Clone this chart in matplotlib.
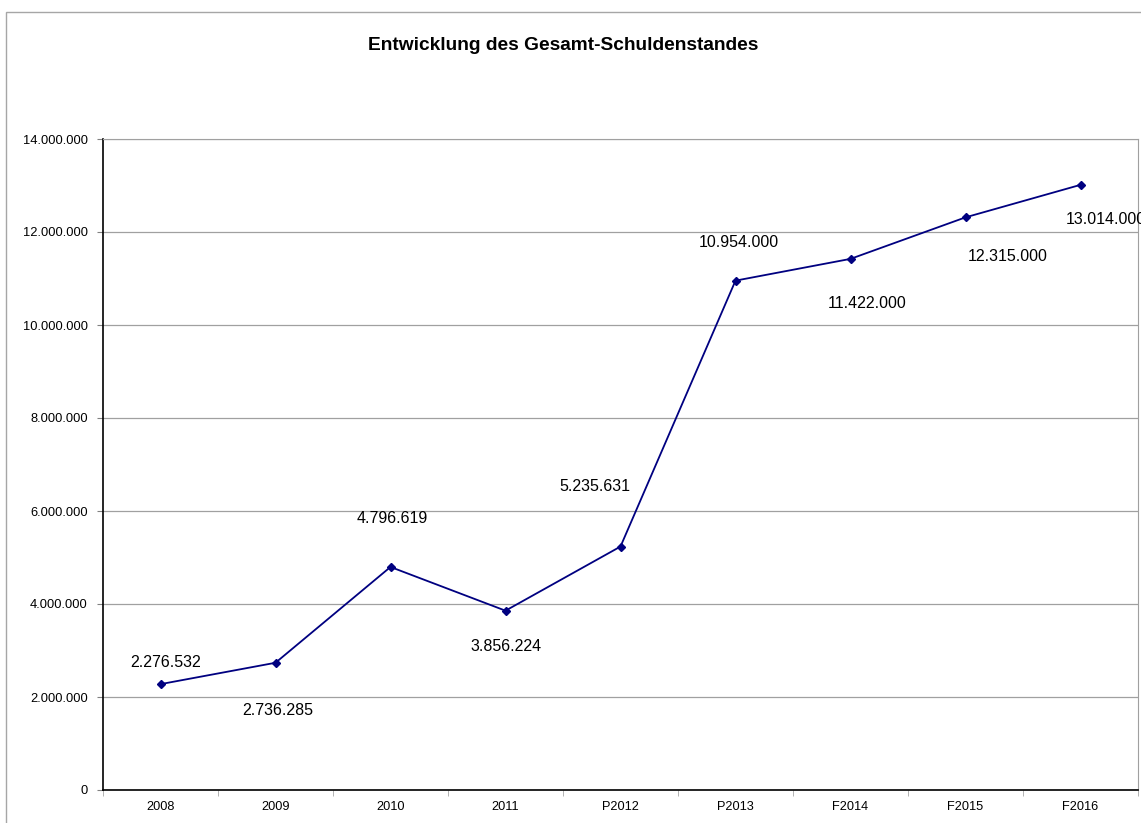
import matplotlib.pyplot as plt
from matplotlib.patches import Rectangle
from matplotlib.ticker import FuncFormatter, FixedLocator

plt.rcParams['font.family'] = ['Liberation Sans', 'DejaVu Sans']

categories = ['2008', '2009', '2010', '2011', 'P2012', 'P2013', 'F2014', 'F2015', 'F2016']
debt = [2276532, 2736285, 4796619, 3856224, 5235631, 10954000, 11422000, 12315000, 13014000]

# label offsets in pixels (dx, dy) as placed in the original chart
label_offsets = [(5, 22), (2, -48), (2, 48), (1, -36), (-26, 60),
                 (3, 38), (17, -45), (42, -39), (25, -35)]


def de_num(v, pos=None):
    return f'{int(round(v)):,}'.replace(',', '.')


fig = plt.figure(figsize=(11.41, 8.23), dpi=100)
# outer chart frame
fig.patches.append(Rectangle((6 / 1141, -0.1), 1.2, (823 - 12) / 823 + 0.1,
                             transform=fig.transFigure, fill=False,
                             edgecolor='#a6a6a6', linewidth=1.0))

ax = fig.add_axes([103 / 1141, 33 / 823, 1035 / 1141, 651 / 823])
x = list(range(len(categories)))
ax.plot(x, debt, color='#000080', linewidth=1.3, marker='D', markersize=4.5,
        markerfacecolor='#000080', markeredgecolor='#000080', zorder=3)

for i, v in enumerate(debt):
    dx, dy = label_offsets[i]
    ax.annotate(de_num(v), (x[i], v), xytext=(dx, dy), textcoords='offset pixels',
                ha='center', va='center', fontsize=11.5, color='#000000',
                annotation_clip=False)

ax.set_xlim(-0.5, len(categories) - 0.5)
ax.set_ylim(0, 14000000)
ax.set_yticks(range(0, 14000001, 2000000))
ax.yaxis.set_major_formatter(FuncFormatter(de_num))
ax.set_xticks(x)
ax.set_xticklabels(categories)
ax.xaxis.set_minor_locator(FixedLocator([i - 0.5 for i in range(len(categories) + 1)]))
ax.tick_params(axis='x', which='major', length=0, labelsize=9.2, pad=8)
ax.tick_params(axis='x', which='minor', length=4, color='#a6a6a6', direction='out')
ax.tick_params(axis='y', length=4, labelsize=9.3, pad=7, color='#808080')

ax.grid(axis='y', color='#a0a0a0', linewidth=0.9)
ax.set_axisbelow(True)
for s in ['top', 'right']:
    ax.spines[s].set_color('#a0a0a0')
for s in ['left', 'bottom']:
    ax.spines[s].set_color('#000000')
    ax.spines[s].set_linewidth(1.2)

fig.text(563 / 1141, 1 - 45 / 823, 'Entwicklung des Gesamt-Schuldenstandes',
         ha='center', va='center', fontsize=13.8, fontweight='bold')

fig.savefig('out.png', dpi=100)
